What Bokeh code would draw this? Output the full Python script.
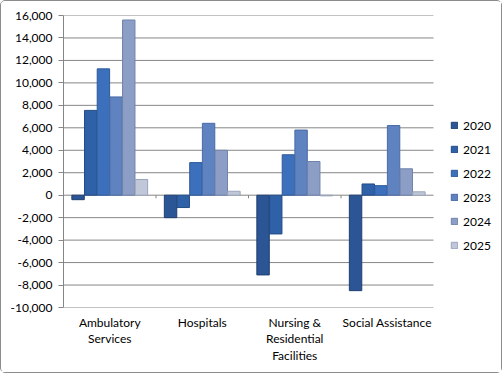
from bokeh.plotting import figure
from bokeh.models import (ColumnDataSource, FixedTicker, Legend, LegendItem, NumeralTickFormatter)
from bokeh.embed import file_html
from bokeh.resources import INLINE

categories = ["Ambulatory\nServices", "Hospitals", "Nursing &\nResidential\nFacilities", "Social Assistance"]
years = ["2020", "2021", "2022", "2023", "2024", "2025"]
v2020 = [-400, -2000, -7100, -8500]
v2021 = [7550, -1100, -3450, 1000]
v2022 = [11250, 2900, 3600, 850]
v2023 = [8750, 6400, 5800, 6200]
v2024 = [15600, 4000, 3000, 2350]
v2025 = [1400, 350, -60, 300]
y_ticks = list(range(-10000, 16001, 2000))
series = [v2020, v2021, v2022, v2023, v2024, v2025]
colors = ["#2B5594", "#2F61A8", "#3C70BC", "#5F82C0", "#8C9EC6", "#BFC7D8"]
edges = ["#1F3F70", "#234B85", "#2D5A99", "#4A6AA3", "#6F82A9", "#9AA4BA"]

FONT = "Lato"
W, H = 502, 373
LEFT = 62
PLOT_W = 370  # pixel width of the category area
n = len(categories)
x_end = n * (W - LEFT) / PLOT_W

p = figure(width=W, height=H, x_range=(0, x_end), y_range=(-10000, 16000),
           output_backend="svg", toolbar_location=None,
           min_border_left=LEFT, min_border_right=0, min_border_top=14, min_border_bottom=67)
p.styles = {"border": "1px solid #8c8c8c", "border-radius": "5px"}
p.outline_line_color = None

# gridlines limited to the category area
p.segment(x0=[0] * len(y_ticks), x1=[n] * len(y_ticks), y0=y_ticks, y1=y_ticks,
          line_color="#868686", line_width=1)

bw = 0.137
renderers = []
for j, (yr, vals) in enumerate(zip(years, series)):
    xs = [i + 0.5 + (j - 2.5) * bw for i in range(n)]
    src = ColumnDataSource(dict(x=xs, top=vals))
    r = p.vbar(x="x", top="top", bottom=0, width=bw * 0.98, source=src,
               fill_color=colors[j], line_color=edges[j], line_width=1)
    renderers.append((yr, r))

# horizontal axis at zero with boundary tick marks
p.segment(x0=list(range(1, n)), x1=list(range(1, n)), y0=[0] * (n - 1), y1=[-280] * (n - 1),
          line_color="#868686", line_width=1)

p.yaxis.ticker = FixedTicker(ticks=y_ticks)
p.yaxis.formatter = NumeralTickFormatter(format="0,0")
p.yaxis.axis_line_color = "#868686"
p.yaxis.major_tick_line_color = "#868686"
p.yaxis.major_tick_out = 5
p.yaxis.major_tick_in = 0
p.yaxis.minor_tick_line_color = None
p.yaxis.major_label_text_font = FONT
p.yaxis.major_label_text_font_size = "12px"
p.yaxis.major_label_text_color = "#000000"
p.yaxis.major_label_standoff = 6

p.xaxis.ticker = FixedTicker(ticks=[i + 0.5 for i in range(n)])
p.xaxis.major_label_overrides = {i + 0.5: c for i, c in enumerate(categories)}
p.xaxis.axis_line_color = None
p.xaxis.major_tick_line_color = None
p.xaxis.minor_tick_line_color = None
p.xaxis.major_label_text_font = FONT
p.xaxis.major_label_text_font_size = "12px"
p.xaxis.major_label_text_color = "#000000"
p.xaxis.major_label_standoff = 1
p.xaxis.major_label_text_line_height = 1.1

p.xgrid.grid_line_color = None
p.ygrid.grid_line_color = None

legend = Legend(items=[LegendItem(label=yr, renderers=[r]) for yr, r in renderers],
                location=(387, 54), orientation="vertical")
legend.border_line_color = None
legend.background_fill_alpha = 0
legend.padding = 0
legend.margin = 0
legend.glyph_width = 8
legend.glyph_height = 8
legend.label_standoff = 5
legend.label_height = 16
legend.spacing = 8
legend.label_text_font = FONT
legend.label_text_font_size = "12px"
legend.label_text_color = "#000000"
p.add_layout(legend, "center")

open("out.html", "w").write(file_html(p, INLINE))
